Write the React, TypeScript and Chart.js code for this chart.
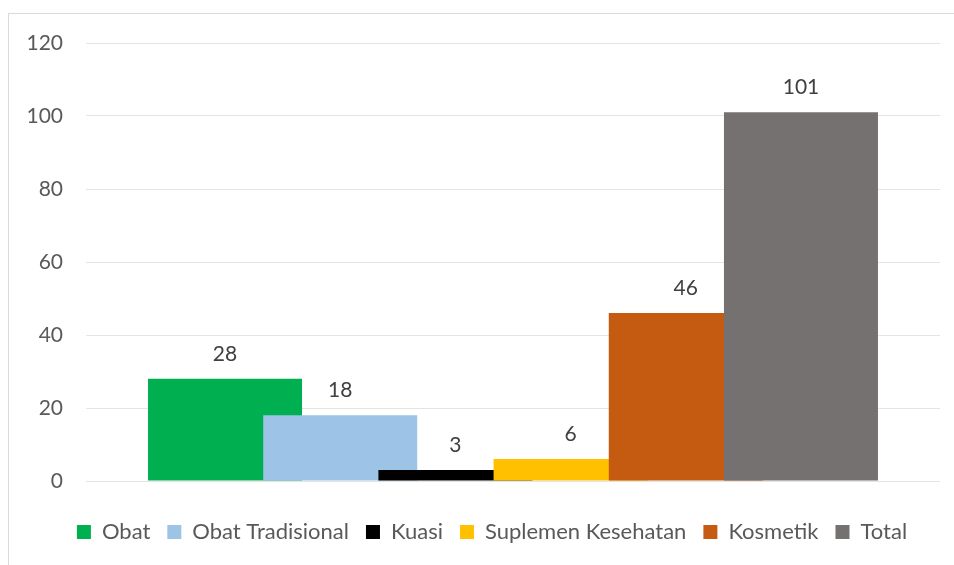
import React, { useEffect, useRef } from "react";
import { Chart, registerables } from "chart.js";

Chart.register(...registerables);

const categories = ["Obat", "Obat Tradisional", "Kuasi", "Suplemen Kesehatan", "Kosmetik", "Total"];
const values = [28, 18, 3, 6, 46, 101];
const colors = ["#00B050", "#9DC3E6", "#000000", "#FFC000", "#C55A11", "#767171"];
const yTickMin = 0;
const yTickMax = 120;
const yTickStep = 20;

const FONT = "Lato";

const dataLabels = {
  id: "dataLabels",
  afterLayout(chart: any) {
    if (chart.legend) {
      chart.legend.left += 17.5;
      chart.legend.right += 17.5;
    }
  },
  afterDatasetsDraw(chart: any) {
    const ctx = chart.ctx;
    ctx.save();
    ctx.font = `21px ${FONT}`;
    ctx.fillStyle = "#404040";
    ctx.textAlign = "center";
    ctx.textBaseline = "middle";
    chart.data.datasets.forEach((ds: any, i: number) => {
      const meta = chart.getDatasetMeta(i);
      meta.data.forEach((el: any, j: number) => {
        const v = ds.data[j].y;
        ctx.fillText(String(v), el.x, el.y - 25);
      });
    });
    ctx.restore();
  },
};

export default function App() {
  const ref = useRef<HTMLCanvasElement>(null);
  useEffect(() => {
    if (!ref.current) return;
    const n = categories.length;
    const chart = new Chart(ref.current, {
      type: "bar",
      data: {
        datasets: categories.map((name, i) => ({
          label: name,
          data: [{ x: i, y: values[i] }],
          backgroundColor: colors[i],
          borderWidth: 0,
          order: n - 1 - i,
          grouped: false,
          categoryPercentage: 1,
          barPercentage: 1.337,
        })) as any,
      },
      options: {
        animation: false,
        responsive: false,
        layout: { padding: { left: 0, right: 14, top: 29, bottom: 12 } },
        scales: {
          x: {
            type: "linear",
            offset: false,
            min: -1.207,
            max: n - 1 + 1.207,
            grid: { display: false },
            border: { display: false },
            ticks: { display: false, stepSize: 1, includeBounds: false },
            afterFit: (s: any) => {
              s.height = 23;
            },
          },
          y: {
            min: yTickMin,
            max: yTickMax,
            ticks: {
              stepSize: yTickStep,
              padding: 23,
              color: "#595959",
              font: { family: FONT, size: 21 },
            },
            grid: { color: "#E4E4E4", lineWidth: 1, drawTicks: false },
            border: { display: false },
            afterFit: (s: any) => {
              s.width = 77;
              s.paddingTop = 0;
              s.paddingBottom = 0;
            },
          },
        },
        plugins: {
          tooltip: { enabled: false },
          legend: {
            position: "bottom",
            labels: {
              boxWidth: 14,
              boxHeight: 14,
              padding: 17,
              color: "#595959",
              font: { family: FONT, size: 22 },
              sort: (a: any, b: any) => a.datasetIndex - b.datasetIndex,
            },
          },
        },
      } as any,
      plugins: [dataLabels],
    });
    return () => chart.destroy();
  }, []);
  return (
    <div
      style={{
        position: "fixed",
        left: 8,
        top: 13,
        width: 946,
        height: 552,
        borderLeft: "1px solid #D9D9D9",
        borderTop: "1px solid #D9D9D9",
        boxSizing: "border-box",
        background: "#fff",
      }}
    >
      <canvas ref={ref} width={945} height={551} style={{ display: "block" }} />
    </div>
  );
}
